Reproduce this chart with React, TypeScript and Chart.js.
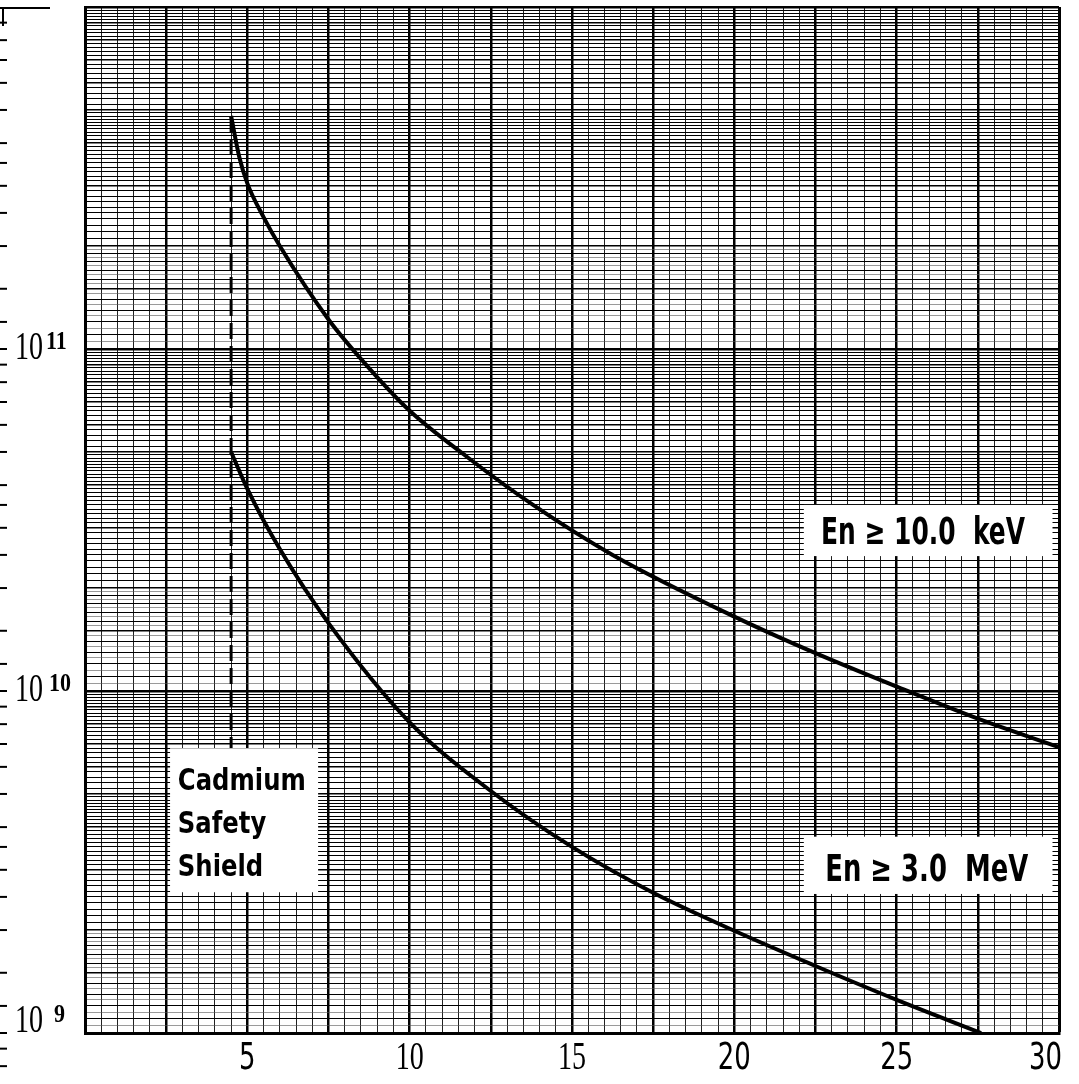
import { useEffect, useRef } from "react";
import { Chart, registerables } from "chart.js";

Chart.register(...registerables);

// Shield distance (x) against neutron fluence (y)
const keVDistance = [4.5, 4.75, 5, 5.5, 6, 7.5, 8.7, 10, 11.75, 13.8, 16.25, 20, 22.5, 25, 27.5, 30];
const keVFluence = [4.8e11, 3.65e11, 3.05e11, 2.43e11, 2.0e11, 1.22e11, 8.9e10, 6.6e10, 4.85e10, 3.5e10, 2.5e10, 1.65e10, 1.29e10, 1.03e10, 8.3e9, 6.85e9];

const meVDistance = [4.5, 5, 6, 7.5, 10, 12.5, 15, 17.5, 20, 22.5, 25, 27.6];
const meVFluence = [5.0e10, 3.9e10, 2.6e10, 1.58e10, 8.1e9, 5.1e9, 3.5e9, 2.57e9, 1.99e9, 1.57e9, 1.25e9, 1.0e9];

// Position of the cadmium safety shield
const shieldDistance = [4.5, 4.5];
const shieldFluence = [4.8e11, 5.0e9];

// Axis labelling
const xTickValues = [5, 10, 15, 20, 25, 30];
const yLabelExponents = [9, 10, 11];
const marginTickMultiples = [1, 1.2, 1.5, 2, 2.5, 3, 3.5, 4, 5, 6, 7, 8, 9];

// Annotation text
const keVLabel = "En ≥ 10.0  keV";
const meVLabel = "En ≥ 3.0  MeV";
const shieldLabel = ["Cadmium", "Safety", "Shield"];

const X_MIN = 0;
const X_MAX = 30;
const Y_MIN = 1e9;
const Y_MAX = 1e12;

const SANS = '"DejaVu Sans", "Liberation Sans", sans-serif';
const SERIF = '"Liberation Serif", "DejaVu Serif", serif';

// Graph-paper rulings: 0.5 units across, log rulings up the page
const xGrid: number[] = [];
for (let i = 0; i <= 60; i++) xGrid.push(i * 0.5);

const yGridUnits: { value: number; unit: number }[] = [];
for (const decade of [1e9, 1e10, 1e11]) {
  for (let i = 20; i < 200; i++) {
    const keep = i < 40 ? true : i < 100 ? i % 2 === 0 : i % 4 === 0;
    if (keep) yGridUnits.push({ value: (decade * i) / 20, unit: i });
  }
}
yGridUnits.push({ value: Y_MAX, unit: 20 });

function yRuleWidth(value: number): number {
  const hit = yGridUnits.find((g) => Math.abs(g.value - value) / value < 1e-9);
  if (!hit) return 1;
  const u = hit.unit;
  if (u === 20) return 2.4;
  if (u % 20 === 0 || u === 30) return 1.6;
  if (u < 40 && u % 2 === 1) return 0.6;
  return 1;
}

function drawText(
  ctx: CanvasRenderingContext2D,
  text: string,
  x: number,
  baseline: number,
  font: string,
  sx: number,
  align: "left" | "center" = "left"
): number {
  ctx.save();
  ctx.font = font;
  const w = ctx.measureText(text).width * sx;
  const left = align === "center" ? x - w / 2 : x;
  ctx.translate(left, baseline);
  ctx.scale(sx, 1);
  ctx.textAlign = "left";
  ctx.textBaseline = "alphabetic";
  ctx.fillStyle = "#000";
  ctx.fillText(text, 0, 0);
  ctx.restore();
  return w;
}

function fitScale(ctx: CanvasRenderingContext2D, text: string, font: string, width: number): number {
  ctx.save();
  ctx.font = font;
  const w = ctx.measureText(text).width;
  ctx.restore();
  return width / w;
}

type Note = {
  lines: string[];
  box: [number, number, number, number];
  textX: number;
  textY: number;
  size: number;
  fitWidth: number;
  lineHeight: number;
};

const notes: Note[] = [
  { lines: [keVLabel], box: [22.14, 29.8, 3.5e10, 2.48e10], textX: 22.67, textY: 2.94e10, size: 37, fitWidth: 204, lineHeight: 0 },
  { lines: [meVLabel], box: [22.14, 29.8, 3.75e9, 2.55e9], textX: 22.8, textY: 3.05e9, size: 37, fitWidth: 203, lineHeight: 0 },
  { lines: shieldLabel, box: [2.62, 7.18, 6.8e9, 2.58e9], textX: 2.86, textY: 5.53e9, size: 31, fitWidth: 128, lineHeight: 43 },
];

const paperPlugin = {
  id: "paperLabels",
  afterDatasetsDraw(chart: any) {
    const ctx: CanvasRenderingContext2D = chart.ctx;
    const xs = chart.scales.x;
    const ys = chart.scales.y;
    for (const n of notes) {
      const x0 = xs.getPixelForValue(n.box[0]);
      const x1 = xs.getPixelForValue(n.box[1]);
      const y0 = ys.getPixelForValue(n.box[2]);
      const y1 = ys.getPixelForValue(n.box[3]);
      ctx.save();
      ctx.fillStyle = "#fff";
      ctx.fillRect(x0, y0, x1 - x0, y1 - y0);
      ctx.restore();
      const font = `bold ${n.size}px ${SANS}`;
      const sx = fitScale(ctx, n.lines[0], font, n.fitWidth);
      const tx = xs.getPixelForValue(n.textX);
      const cy = ys.getPixelForValue(n.textY);
      const cap = n.size * 0.729;
      n.lines.forEach((line, i) => {
        drawText(ctx, line, tx, cy + cap / 2 + i * n.lineHeight, font, sx);
      });
    }
  },
  afterDraw(chart: any) {
    const ctx: CanvasRenderingContext2D = chart.ctx;
    const xs = chart.scales.x;
    const ys = chart.scales.y;
    const area = chart.chartArea;

    // x tick labels
    for (const v of xTickValues) {
      const serif = v === 10 || v === 15;
      const font = serif ? `40px ${SERIF}` : `37px ${SANS}`;
      let px = xs.getPixelForValue(v);
      ctx.save();
      ctx.font = font;
      const w = ctx.measureText(String(v)).width * 0.7;
      ctx.restore();
      if (px + w / 2 > area.right + 3) px = area.right + 3 - w / 2;
      drawText(ctx, String(v), px, 1069, font, 0.7, "center");
    }

    // y decade labels with superscript exponents
    for (const e of yLabelExponents) {
      const py = ys.getPixelForValue(Math.pow(10, e));
      const cy = Math.min(py - 4, area.bottom - 15);
      const mainBase = cy + 13.5;
      const w = drawText(ctx, "10", 15, mainBase, `40px ${SERIF}`, 0.7);
      const gap = e === 9 ? 11 : e === 11 ? 3 : 6;
      drawText(ctx, String(e), 15 + w + gap, cy + 3.5, `bold 25px ${SERIF}`, 0.88);
    }

    // printed margin scale on the left edge
    ctx.save();
    ctx.strokeStyle = "#000";
    ctx.lineWidth = 2;
    for (const d of [1e8, 1e9, 1e10, 1e11, 1e12]) {
      for (const m of marginTickMultiples) {
        const py = ys.getPixelForValue(d * m);
        if (py < 10 || py > chart.height) continue;
        ctx.beginPath();
        ctx.moveTo(0, py);
        ctx.lineTo(7, py);
        ctx.stroke();
      }
    }
    ctx.beginPath();
    ctx.moveTo(0, 8);
    ctx.lineTo(50, 8);
    ctx.moveTo(3, 8);
    ctx.lineTo(3, 26);
    ctx.stroke();
    ctx.restore();
  },
};

export default function App() {
  const ref = useRef<HTMLCanvasElement>(null);

  useEffect(() => {
    const canvas = ref.current;
    if (!canvas) return;
    const chart = new Chart(canvas, {
      type: "line",
      data: {
        datasets: [
          {
            label: keVLabel,
            data: keVDistance.map((x, i) => ({ x, y: keVFluence[i] })),
            borderColor: "#000",
            borderWidth: 4,
            pointRadius: 0,
            cubicInterpolationMode: "monotone",
            fill: false,
          },
          {
            label: meVLabel,
            data: meVDistance.map((x, i) => ({ x, y: meVFluence[i] })),
            borderColor: "#000",
            borderWidth: 4,
            pointRadius: 0,
            cubicInterpolationMode: "monotone",
            fill: false,
          },
          {
            label: shieldLabel.join(" "),
            data: shieldDistance.map((x, i) => ({ x, y: shieldFluence[i] })),
            borderColor: "#000",
            borderWidth: 3,
            borderDash: [16, 7],
            pointRadius: 0,
            fill: false,
          },
        ],
      },
      options: {
        animation: false,
        responsive: false,
        maintainAspectRatio: false,
        layout: { padding: { top: 7, right: 20, left: 0, bottom: 0 } },
        plugins: { legend: { display: false }, tooltip: { enabled: false } },
        scales: {
          x: {
            type: "linear",
            min: X_MIN,
            max: X_MAX,
            afterBuildTicks: (s: any) => {
              s.ticks = xGrid.map((value) => ({ value }));
            },
            afterFit: (s: any) => {
              s.height = 51;
            },
            ticks: { display: false, autoSkip: false },
            grid: {
              drawTicks: false,
              color: (c: any) => {
                const v = c.tick ? c.tick.value : 0;
                const major = Math.abs(v / 2.5 - Math.round(v / 2.5)) < 1e-6;
                return major ? "#000" : "#222";
              },
              lineWidth: (c: any) => {
                const v = c.tick ? c.tick.value : 0;
                if (Math.abs(v - X_MAX) < 1e-6) return 3;
                const major = Math.abs(v / 2.5 - Math.round(v / 2.5)) < 1e-6;
                return major ? 2.5 : 1;
              },
            },
            border: { display: true, color: "#000", width: 3 },
          },
          y: {
            type: "logarithmic",
            min: Y_MIN,
            max: Y_MAX,
            afterBuildTicks: (s: any) => {
              s.ticks = yGridUnits.map((g) => ({ value: g.value }));
            },
            afterFit: (s: any) => {
              s.width = 85;
            },
            ticks: { display: false, autoSkip: false },
            grid: {
              drawTicks: false,
              color: (c: any) => {
                const v = c.tick ? c.tick.value : 1;
                return yRuleWidth(v) < 1 ? "#555" : "#000";
              },
              lineWidth: (c: any) => {
                const v = c.tick ? c.tick.value : 1;
                return yRuleWidth(v);
              },
            },
            border: { display: true, color: "#000", width: 3 },
          },
        },
      },
      plugins: [paperPlugin],
    } as any);
    return () => chart.destroy();
  }, []);

  return (
    <div style={{ position: "fixed", left: 0, top: 0, width: 1079, height: 1084, background: "#fff" }}>
      <canvas ref={ref} width={1079} height={1084} style={{ display: "block", width: 1079, height: 1084 }} />
    </div>
  );
}
